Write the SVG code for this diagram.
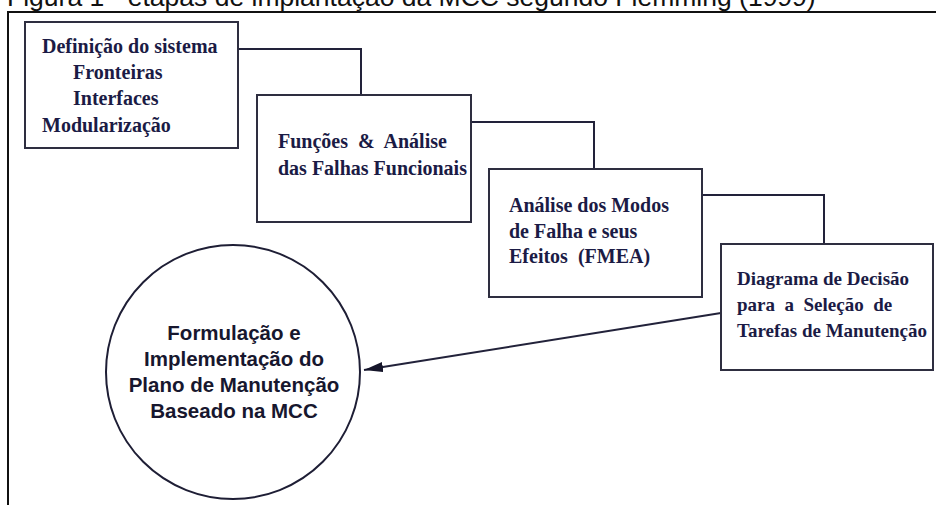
<svg xmlns="http://www.w3.org/2000/svg" width="936" height="505" viewBox="0 0 936 505">
<style>
.box{fill:#fff;stroke:#2e2e40;stroke-width:2}
.con{fill:none;stroke:#22223a;stroke-width:2}
.t{font-family:"Liberation Serif","Times New Roman",serif;font-weight:bold;font-size:20px;fill:#1b1b45;white-space:pre}
.c{font-family:"Liberation Sans",Arial,sans-serif;font-weight:bold;font-size:20.5px;fill:#17172e;text-anchor:middle}
.title{font-family:"Liberation Sans",Arial,sans-serif;font-size:26.5px;fill:#111}
</style>
<defs>
<marker id="arr" markerWidth="20" markerHeight="12" refX="19" refY="5" orient="auto" markerUnits="userSpaceOnUse">
<path d="M0,0 L19,5 L0,10 Z" fill="#15152a"/>
</marker>
</defs>
<rect width="936" height="505" fill="#fff"/>
<text class="title" x="7" y="6">Figura 1 - etapas de implantação da MCC segundo Flemming (1999)</text>
<path d="M8,505 V12 H936" fill="none" stroke="#111" stroke-width="2"/>
<g id="connectors">
<polyline class="con" points="238,49 361,49 361,95"/>
<polyline class="con" points="471,122 594,122 594,169"/>
<polyline class="con" points="702,195 824,195 824,244"/>
<line class="con" x1="721" y1="313" x2="364" y2="370" marker-end="url(#arr)"/>
</g>
<g id="node1">
<rect class="box" x="25" y="22" width="213" height="126"/>
<text class="t" x="42" y="53">Definição do sistema</text>
<text class="t" x="73" y="79">Fronteiras</text>
<text class="t" x="73" y="105">Interfaces</text>
<text class="t" x="42" y="132">Modularização</text>
</g>
<g id="node2">
<rect class="box" x="257" y="95" width="214" height="127"/>
<text class="t" x="278" y="148">Funções  &amp;  Análise</text>
<text class="t" x="278" y="175">das Falhas Funcionais</text>
</g>
<g id="node3">
<rect class="box" x="489" y="169" width="213" height="128"/>
<text class="t" x="509" y="212">Análise dos Modos</text>
<text class="t" x="509" y="238">de Falha e seus</text>
<text class="t" x="509" y="263">Efeitos  (FMEA)</text>
</g>
<g id="node4">
<rect class="box" x="721" y="244" width="212" height="126"/>
<text class="t" x="737" y="285" style="font-size:19px">Diagrama de Decisão</text>
<text class="t" x="737" y="311" style="font-size:19px">para  a  Seleção  de</text>
<text class="t" x="737" y="337" style="font-size:19px">Tarefas de Manutenção</text>
</g>
<g id="node5">
<circle cx="233" cy="372" r="127" fill="#fff" stroke="#1e1e35" stroke-width="2"/>
<text class="c" x="234" y="340">Formulação e</text>
<text class="c" x="234" y="366">Implementação do</text>
<text class="c" x="234" y="392">Plano de Manutenção</text>
<text class="c" x="234" y="418">Baseado na MCC</text>
</g>
</svg>
